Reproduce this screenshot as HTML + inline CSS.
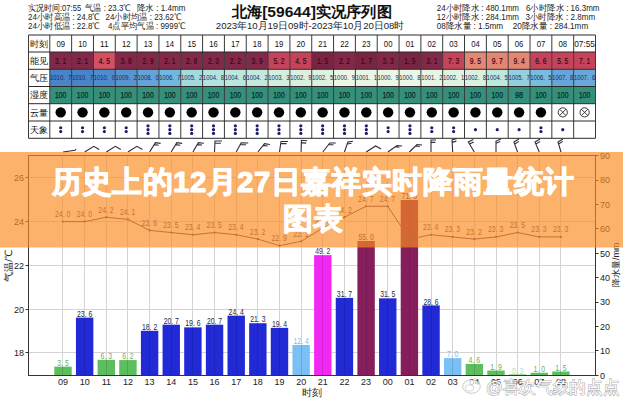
<!DOCTYPE html>
<html><head><meta charset="utf-8">
<style>
html,body{margin:0;padding:0;background:#fff;}
body{width:623px;height:400px;overflow:hidden;position:relative;font-family:"Liberation Sans", sans-serif;}
svg{position:absolute;left:0;top:0;}
svg text{font-family:"Liberation Sans", sans-serif;}
</style></head><body>
<svg width="623" height="400" viewBox="0 0 623 400">
<text x="28.0" y="10.9" font-size="8.60" fill="#222" textLength="53.2" lengthAdjust="spacingAndGlyphs">实况时间:07:55</text>
<text x="85.0" y="10.9" font-size="8.60" fill="#222" textLength="45.6" lengthAdjust="spacingAndGlyphs">气温 : 23.3℃</text>
<text x="137.0" y="10.9" font-size="8.60" fill="#222" textLength="48.4" lengthAdjust="spacingAndGlyphs">降水 : 1.4mm</text>
<text x="28.0" y="20.1" font-size="8.60" fill="#222" textLength="71.8" lengthAdjust="spacingAndGlyphs">24小时高温 : 24.8℃</text>
<text x="105.6" y="20.1" font-size="8.60" fill="#222" textLength="75.8" lengthAdjust="spacingAndGlyphs">24小时均温 : 23.62℃</text>
<text x="28.0" y="29.4" font-size="8.60" fill="#222" textLength="71.8" lengthAdjust="spacingAndGlyphs">24小时低温 : 22.8℃</text>
<text x="108.0" y="29.4" font-size="8.60" fill="#222" textLength="77.4" lengthAdjust="spacingAndGlyphs">4点平均气温 : 9999℃</text>
<text x="436.7" y="10.9" font-size="8.60" fill="#222" textLength="82.3" lengthAdjust="spacingAndGlyphs">24小时降水 : 480.1mm</text>
<text x="526.0" y="10.9" font-size="8.60" fill="#222" textLength="73.5" lengthAdjust="spacingAndGlyphs">6小时降水 : 16.3mm</text>
<text x="436.7" y="20.1" font-size="8.60" fill="#222" textLength="82.3" lengthAdjust="spacingAndGlyphs">12小时降水 : 284.1mm</text>
<text x="525.6" y="20.1" font-size="8.60" fill="#222" textLength="69.5" lengthAdjust="spacingAndGlyphs">3小时降水 : 2.8mm</text>
<text x="436.7" y="29.4" font-size="8.60" fill="#222" textLength="66.3" lengthAdjust="spacingAndGlyphs">08降水量 : 1.5mm</text>
<text x="512.7" y="29.4" font-size="8.60" fill="#222" textLength="75.5" lengthAdjust="spacingAndGlyphs">20降水量 : 284.1mm</text>
<text x="231.8" y="16.5" font-size="15.4" font-weight="bold" fill="#111" textLength="160" lengthAdjust="spacingAndGlyphs">北海[59644]实况序列图</text>
<text x="215.8" y="28.9" font-size="9.8" fill="#222" textLength="188.4" lengthAdjust="spacingAndGlyphs">2023年10月19日09时-2023年10月20日08时</text>
<rect x="49.80" y="52.00" width="21.83" height="17.30" fill="rgb(132,40,74)"/>
<rect x="49.80" y="69.30" width="21.83" height="17.20" fill="rgb(72,132,198)"/>
<rect x="49.80" y="86.50" width="21.83" height="17.20" fill="rgb(52,144,122)"/>
<rect x="71.63" y="52.00" width="21.83" height="17.30" fill="rgb(132,40,74)"/>
<rect x="71.63" y="69.30" width="21.83" height="17.20" fill="rgb(72,132,198)"/>
<rect x="71.63" y="86.50" width="21.83" height="17.20" fill="rgb(52,144,122)"/>
<rect x="93.46" y="52.00" width="21.83" height="17.30" fill="rgb(212,80,96)"/>
<rect x="93.46" y="69.30" width="21.83" height="17.20" fill="rgb(79,140,203)"/>
<rect x="93.46" y="86.50" width="21.83" height="17.20" fill="rgb(52,144,122)"/>
<rect x="115.28" y="52.00" width="21.83" height="17.30" fill="rgb(132,40,74)"/>
<rect x="115.28" y="69.30" width="21.83" height="17.20" fill="rgb(88,149,208)"/>
<rect x="115.28" y="86.50" width="21.83" height="17.20" fill="rgb(52,144,122)"/>
<rect x="137.11" y="52.00" width="21.83" height="17.30" fill="rgb(132,40,74)"/>
<rect x="137.11" y="69.30" width="21.83" height="17.20" fill="rgb(100,162,216)"/>
<rect x="137.11" y="86.50" width="21.83" height="17.20" fill="rgb(52,144,122)"/>
<rect x="158.94" y="52.00" width="21.83" height="17.30" fill="rgb(132,40,74)"/>
<rect x="158.94" y="69.30" width="21.83" height="17.20" fill="rgb(112,184,224)"/>
<rect x="158.94" y="86.50" width="21.83" height="17.20" fill="rgb(52,144,122)"/>
<rect x="180.77" y="52.00" width="21.83" height="17.30" fill="rgb(132,40,74)"/>
<rect x="180.77" y="69.30" width="21.83" height="17.20" fill="rgb(164,218,222)"/>
<rect x="180.77" y="86.50" width="21.83" height="17.20" fill="rgb(52,144,122)"/>
<rect x="202.60" y="52.00" width="21.83" height="17.30" fill="rgb(132,40,74)"/>
<rect x="202.60" y="69.30" width="21.83" height="17.20" fill="rgb(180,226,222)"/>
<rect x="202.60" y="86.50" width="21.83" height="17.20" fill="rgb(52,144,122)"/>
<rect x="224.42" y="52.00" width="21.83" height="17.30" fill="rgb(132,40,74)"/>
<rect x="224.42" y="69.30" width="21.83" height="17.20" fill="rgb(188,230,222)"/>
<rect x="224.42" y="86.50" width="21.83" height="17.20" fill="rgb(52,144,122)"/>
<rect x="246.25" y="52.00" width="21.83" height="17.30" fill="rgb(132,40,74)"/>
<rect x="246.25" y="69.30" width="21.83" height="17.20" fill="rgb(195,232,222)"/>
<rect x="246.25" y="86.50" width="21.83" height="17.20" fill="rgb(52,144,122)"/>
<rect x="268.08" y="52.00" width="21.83" height="17.30" fill="rgb(198,68,90)"/>
<rect x="268.08" y="69.30" width="21.83" height="17.20" fill="rgb(211,238,222)"/>
<rect x="268.08" y="86.50" width="21.83" height="17.20" fill="rgb(52,144,122)"/>
<rect x="289.91" y="52.00" width="21.83" height="17.30" fill="rgb(198,68,90)"/>
<rect x="289.91" y="69.30" width="21.83" height="17.20" fill="rgb(217,240,222)"/>
<rect x="289.91" y="86.50" width="21.83" height="17.20" fill="rgb(52,144,122)"/>
<rect x="311.74" y="52.00" width="21.83" height="17.30" fill="rgb(122,36,68)"/>
<rect x="311.74" y="69.30" width="21.83" height="17.20" fill="rgb(221,241,223)"/>
<rect x="311.74" y="86.50" width="21.83" height="17.20" fill="rgb(52,144,122)"/>
<rect x="333.56" y="52.00" width="21.83" height="17.30" fill="rgb(132,40,74)"/>
<rect x="333.56" y="69.30" width="21.83" height="17.20" fill="rgb(235,246,228)"/>
<rect x="333.56" y="86.50" width="21.83" height="17.20" fill="rgb(52,144,122)"/>
<rect x="355.39" y="52.00" width="21.83" height="17.30" fill="rgb(122,36,68)"/>
<rect x="355.39" y="69.30" width="21.83" height="17.20" fill="rgb(233,245,227)"/>
<rect x="355.39" y="86.50" width="21.83" height="17.20" fill="rgb(52,144,122)"/>
<rect x="377.22" y="52.00" width="21.83" height="17.30" fill="rgb(132,40,74)"/>
<rect x="377.22" y="69.30" width="21.83" height="17.20" fill="rgb(235,246,228)"/>
<rect x="377.22" y="86.50" width="21.83" height="17.20" fill="rgb(52,144,122)"/>
<rect x="399.05" y="52.00" width="21.83" height="17.30" fill="rgb(122,36,68)"/>
<rect x="399.05" y="69.30" width="21.83" height="17.20" fill="rgb(236,246,228)"/>
<rect x="399.05" y="86.50" width="21.83" height="17.20" fill="rgb(52,144,122)"/>
<rect x="420.88" y="52.00" width="21.83" height="17.30" fill="rgb(132,40,74)"/>
<rect x="420.88" y="69.30" width="21.83" height="17.20" fill="rgb(232,245,227)"/>
<rect x="420.88" y="86.50" width="21.83" height="17.20" fill="rgb(52,144,122)"/>
<rect x="442.70" y="52.00" width="21.83" height="17.30" fill="rgb(198,68,90)"/>
<rect x="442.70" y="69.30" width="21.83" height="17.20" fill="rgb(224,242,224)"/>
<rect x="442.70" y="86.50" width="21.83" height="17.20" fill="rgb(52,144,122)"/>
<rect x="464.53" y="52.00" width="21.83" height="17.30" fill="rgb(228,134,114)"/>
<rect x="464.53" y="69.30" width="21.83" height="17.20" fill="rgb(218,241,223)"/>
<rect x="464.53" y="86.50" width="21.83" height="17.20" fill="rgb(52,144,122)"/>
<rect x="486.36" y="52.00" width="21.83" height="17.30" fill="rgb(228,134,114)"/>
<rect x="486.36" y="69.30" width="21.83" height="17.20" fill="rgb(190,231,222)"/>
<rect x="486.36" y="86.50" width="21.83" height="17.20" fill="rgb(52,144,122)"/>
<rect x="508.19" y="52.00" width="21.83" height="17.30" fill="rgb(228,134,114)"/>
<rect x="508.19" y="69.30" width="21.83" height="17.20" fill="rgb(147,207,223)"/>
<rect x="508.19" y="86.50" width="21.83" height="17.20" fill="rgb(52,144,122)"/>
<rect x="530.02" y="52.00" width="21.83" height="17.30" fill="rgb(198,68,90)"/>
<rect x="530.02" y="69.30" width="21.83" height="17.20" fill="rgb(119,189,224)"/>
<rect x="530.02" y="86.50" width="21.83" height="17.20" fill="rgb(52,144,122)"/>
<rect x="551.84" y="52.00" width="21.83" height="17.30" fill="rgb(198,68,90)"/>
<rect x="551.84" y="69.30" width="21.83" height="17.20" fill="rgb(102,165,217)"/>
<rect x="551.84" y="86.50" width="21.83" height="17.20" fill="rgb(52,144,122)"/>
<rect x="573.67" y="52.00" width="21.83" height="17.30" fill="rgb(198,68,90)"/>
<rect x="573.67" y="69.30" width="21.83" height="17.20" fill="rgb(104,169,218)"/>
<rect x="573.67" y="86.50" width="21.83" height="17.20" fill="rgb(52,144,122)"/>
<line x1="49.80" y1="35.00" x2="49.80" y2="138.30" stroke="#3a3a3a" stroke-width="1"/>
<line x1="71.63" y1="35.00" x2="71.63" y2="138.30" stroke="#3a3a3a" stroke-width="1"/>
<line x1="93.46" y1="35.00" x2="93.46" y2="138.30" stroke="#3a3a3a" stroke-width="1"/>
<line x1="115.28" y1="35.00" x2="115.28" y2="138.30" stroke="#3a3a3a" stroke-width="1"/>
<line x1="137.11" y1="35.00" x2="137.11" y2="138.30" stroke="#3a3a3a" stroke-width="1"/>
<line x1="158.94" y1="35.00" x2="158.94" y2="138.30" stroke="#3a3a3a" stroke-width="1"/>
<line x1="180.77" y1="35.00" x2="180.77" y2="138.30" stroke="#3a3a3a" stroke-width="1"/>
<line x1="202.60" y1="35.00" x2="202.60" y2="138.30" stroke="#3a3a3a" stroke-width="1"/>
<line x1="224.42" y1="35.00" x2="224.42" y2="138.30" stroke="#3a3a3a" stroke-width="1"/>
<line x1="246.25" y1="35.00" x2="246.25" y2="138.30" stroke="#3a3a3a" stroke-width="1"/>
<line x1="268.08" y1="35.00" x2="268.08" y2="138.30" stroke="#3a3a3a" stroke-width="1"/>
<line x1="289.91" y1="35.00" x2="289.91" y2="138.30" stroke="#3a3a3a" stroke-width="1"/>
<line x1="311.74" y1="35.00" x2="311.74" y2="138.30" stroke="#3a3a3a" stroke-width="1"/>
<line x1="333.56" y1="35.00" x2="333.56" y2="138.30" stroke="#3a3a3a" stroke-width="1"/>
<line x1="355.39" y1="35.00" x2="355.39" y2="138.30" stroke="#3a3a3a" stroke-width="1"/>
<line x1="377.22" y1="35.00" x2="377.22" y2="138.30" stroke="#3a3a3a" stroke-width="1"/>
<line x1="399.05" y1="35.00" x2="399.05" y2="138.30" stroke="#3a3a3a" stroke-width="1"/>
<line x1="420.88" y1="35.00" x2="420.88" y2="138.30" stroke="#3a3a3a" stroke-width="1"/>
<line x1="442.70" y1="35.00" x2="442.70" y2="138.30" stroke="#3a3a3a" stroke-width="1"/>
<line x1="464.53" y1="35.00" x2="464.53" y2="138.30" stroke="#3a3a3a" stroke-width="1"/>
<line x1="486.36" y1="35.00" x2="486.36" y2="138.30" stroke="#3a3a3a" stroke-width="1"/>
<line x1="508.19" y1="35.00" x2="508.19" y2="138.30" stroke="#3a3a3a" stroke-width="1"/>
<line x1="530.02" y1="35.00" x2="530.02" y2="138.30" stroke="#3a3a3a" stroke-width="1"/>
<line x1="551.84" y1="35.00" x2="551.84" y2="138.30" stroke="#3a3a3a" stroke-width="1"/>
<line x1="573.67" y1="35.00" x2="573.67" y2="138.30" stroke="#3a3a3a" stroke-width="1"/>
<line x1="595.50" y1="35.00" x2="595.50" y2="138.30" stroke="#3a3a3a" stroke-width="1"/>
<line x1="28.50" y1="35.00" x2="28.50" y2="138.30" stroke="#3a3a3a" stroke-width="1"/>
<line x1="28.50" y1="35.00" x2="595.50" y2="35.00" stroke="#2a2a2a" stroke-width="1"/>
<line x1="28.50" y1="52.00" x2="595.50" y2="52.00" stroke="#2a2a2a" stroke-width="1"/>
<line x1="28.50" y1="69.30" x2="595.50" y2="69.30" stroke="#2a2a2a" stroke-width="1"/>
<line x1="28.50" y1="86.50" x2="595.50" y2="86.50" stroke="#2a2a2a" stroke-width="1"/>
<line x1="28.50" y1="103.70" x2="595.50" y2="103.70" stroke="#2a2a2a" stroke-width="1"/>
<line x1="28.50" y1="121.00" x2="595.50" y2="121.00" stroke="#2a2a2a" stroke-width="1"/>
<line x1="28.50" y1="138.30" x2="595.50" y2="138.30" stroke="#2a2a2a" stroke-width="1"/>
<text x="39.1" y="46.80" font-size="9.2" text-anchor="middle" fill="#111">时刻</text>
<text x="39.1" y="63.95" font-size="9.2" text-anchor="middle" fill="#111">能见</text>
<text x="39.1" y="81.20" font-size="9.2" text-anchor="middle" fill="#111">气压</text>
<text x="39.1" y="98.40" font-size="9.2" text-anchor="middle" fill="#111">湿度</text>
<text x="39.1" y="115.65" font-size="9.2" text-anchor="middle" fill="#111">云量</text>
<text x="39.1" y="132.95" font-size="9.2" text-anchor="middle" fill="#111">天象</text>
<text x="60.71" y="46.80" font-size="9" text-anchor="middle" fill="#111" textLength="8.6" lengthAdjust="spacingAndGlyphs">09</text>
<text x="60.71" y="63.95" font-size="9" text-anchor="middle" fill="#3a0818" stroke="#3a0818" stroke-width="0.2" textLength="11.2" lengthAdjust="spacingAndGlyphs">3. 1</text>
<text x="60.71" y="80.30" font-size="6.6" text-anchor="middle" fill="#1c2a5a" textLength="21.3" lengthAdjust="spacingAndGlyphs">1010.&#160;&#160;7</text>
<text x="60.71" y="98.40" font-size="9" text-anchor="middle" fill="#0c2a26" stroke="#0c2a26" stroke-width="0.25" textLength="11.4" lengthAdjust="spacingAndGlyphs">100</text>
<circle cx="60.71" cy="112.35" r="5.2" fill="#000"/>
<circle cx="60.71" cy="127.75" r="1.6" fill="#1a1f6a"/>
<circle cx="60.71" cy="131.55" r="1.6" fill="#1a1f6a"/>
<text x="82.54" y="46.80" font-size="9" text-anchor="middle" fill="#111" textLength="8.6" lengthAdjust="spacingAndGlyphs">10</text>
<text x="82.54" y="63.95" font-size="9" text-anchor="middle" fill="#3a0818" stroke="#3a0818" stroke-width="0.2" textLength="11.2" lengthAdjust="spacingAndGlyphs">2. 1</text>
<text x="82.54" y="80.30" font-size="6.6" text-anchor="middle" fill="#1c2a5a" textLength="21.3" lengthAdjust="spacingAndGlyphs">1010.&#160;&#160;7</text>
<text x="82.54" y="98.40" font-size="9" text-anchor="middle" fill="#0c2a26" stroke="#0c2a26" stroke-width="0.25" textLength="11.4" lengthAdjust="spacingAndGlyphs">100</text>
<circle cx="82.54" cy="112.35" r="5.2" fill="#000"/>
<circle cx="82.54" cy="127.75" r="1.6" fill="#1a1f6a"/>
<circle cx="82.54" cy="131.55" r="1.6" fill="#1a1f6a"/>
<text x="104.37" y="46.80" font-size="9" text-anchor="middle" fill="#111" textLength="8.6" lengthAdjust="spacingAndGlyphs">11</text>
<text x="104.37" y="63.95" font-size="9" text-anchor="middle" fill="#3a0818" stroke="#3a0818" stroke-width="0.2" textLength="11.2" lengthAdjust="spacingAndGlyphs">4. 5</text>
<text x="104.37" y="80.30" font-size="6.6" text-anchor="middle" fill="#1c2a5a" textLength="21.3" lengthAdjust="spacingAndGlyphs">1010.&#160;&#160;0</text>
<text x="104.37" y="98.40" font-size="9" text-anchor="middle" fill="#0c2a26" stroke="#0c2a26" stroke-width="0.25" textLength="11.4" lengthAdjust="spacingAndGlyphs">100</text>
<circle cx="104.37" cy="112.35" r="5.2" fill="#000"/>
<circle cx="104.37" cy="127.75" r="1.6" fill="#1a1f6a"/>
<circle cx="104.37" cy="131.55" r="1.6" fill="#1a1f6a"/>
<text x="126.20" y="46.80" font-size="9" text-anchor="middle" fill="#111" textLength="8.6" lengthAdjust="spacingAndGlyphs">12</text>
<text x="126.20" y="63.95" font-size="9" text-anchor="middle" fill="#3a0818" stroke="#3a0818" stroke-width="0.2" textLength="11.2" lengthAdjust="spacingAndGlyphs">3. 8</text>
<text x="126.20" y="80.30" font-size="6.6" text-anchor="middle" fill="#1c2a5a" textLength="21.3" lengthAdjust="spacingAndGlyphs">1009.&#160;&#160;2</text>
<text x="126.20" y="98.40" font-size="9" text-anchor="middle" fill="#0c2a26" stroke="#0c2a26" stroke-width="0.25" textLength="11.4" lengthAdjust="spacingAndGlyphs">100</text>
<circle cx="126.20" cy="112.35" r="5.2" fill="#000"/>
<circle cx="126.20" cy="127.75" r="1.6" fill="#1a1f6a"/>
<circle cx="126.20" cy="131.55" r="1.6" fill="#1a1f6a"/>
<text x="148.03" y="46.80" font-size="9" text-anchor="middle" fill="#111" textLength="8.6" lengthAdjust="spacingAndGlyphs">13</text>
<text x="148.03" y="63.95" font-size="9" text-anchor="middle" fill="#3a0818" stroke="#3a0818" stroke-width="0.2" textLength="11.2" lengthAdjust="spacingAndGlyphs">2. 9</text>
<text x="148.03" y="80.30" font-size="6.6" text-anchor="middle" fill="#1c2a5a" textLength="21.3" lengthAdjust="spacingAndGlyphs">1008.&#160;&#160;0</text>
<text x="148.03" y="98.40" font-size="9" text-anchor="middle" fill="#0c2a26" stroke="#0c2a26" stroke-width="0.25" textLength="11.4" lengthAdjust="spacingAndGlyphs">100</text>
<circle cx="148.03" cy="112.35" r="5.2" fill="#000"/>
<circle cx="148.03" cy="125.85" r="1.6" fill="#1a1f6a"/>
<circle cx="148.03" cy="129.65" r="1.6" fill="#1a1f6a"/>
<circle cx="148.03" cy="133.45" r="1.6" fill="#1a1f6a"/>
<text x="169.85" y="46.80" font-size="9" text-anchor="middle" fill="#111" textLength="8.6" lengthAdjust="spacingAndGlyphs">14</text>
<text x="169.85" y="63.95" font-size="9" text-anchor="middle" fill="#3a0818" stroke="#3a0818" stroke-width="0.2" textLength="11.2" lengthAdjust="spacingAndGlyphs">2. 1</text>
<text x="169.85" y="80.30" font-size="6.6" text-anchor="middle" fill="#1c2a5a" textLength="21.3" lengthAdjust="spacingAndGlyphs">1006.&#160;&#160;7</text>
<text x="169.85" y="98.40" font-size="9" text-anchor="middle" fill="#0c2a26" stroke="#0c2a26" stroke-width="0.25" textLength="11.4" lengthAdjust="spacingAndGlyphs">100</text>
<circle cx="169.85" cy="112.35" r="5.2" fill="#000"/>
<circle cx="169.85" cy="125.85" r="1.6" fill="#1a1f6a"/>
<circle cx="169.85" cy="129.65" r="1.6" fill="#1a1f6a"/>
<circle cx="169.85" cy="133.45" r="1.6" fill="#1a1f6a"/>
<text x="191.68" y="46.80" font-size="9" text-anchor="middle" fill="#111" textLength="8.6" lengthAdjust="spacingAndGlyphs">15</text>
<text x="191.68" y="63.95" font-size="9" text-anchor="middle" fill="#3a0818" stroke="#3a0818" stroke-width="0.2" textLength="11.2" lengthAdjust="spacingAndGlyphs">2. 8</text>
<text x="191.68" y="80.30" font-size="6.6" text-anchor="middle" fill="#1c2a5a" textLength="21.3" lengthAdjust="spacingAndGlyphs">1005.&#160;&#160;2</text>
<text x="191.68" y="98.40" font-size="9" text-anchor="middle" fill="#0c2a26" stroke="#0c2a26" stroke-width="0.25" textLength="11.4" lengthAdjust="spacingAndGlyphs">100</text>
<circle cx="191.68" cy="112.35" r="5.2" fill="#000"/>
<circle cx="191.68" cy="125.85" r="1.6" fill="#1a1f6a"/>
<circle cx="191.68" cy="129.65" r="1.6" fill="#1a1f6a"/>
<circle cx="191.68" cy="133.45" r="1.6" fill="#1a1f6a"/>
<text x="213.51" y="46.80" font-size="9" text-anchor="middle" fill="#111" textLength="8.6" lengthAdjust="spacingAndGlyphs">16</text>
<text x="213.51" y="63.95" font-size="9" text-anchor="middle" fill="#3a0818" stroke="#3a0818" stroke-width="0.2" textLength="11.2" lengthAdjust="spacingAndGlyphs">2. 3</text>
<text x="213.51" y="80.30" font-size="6.6" text-anchor="middle" fill="#1c2a5a" textLength="21.3" lengthAdjust="spacingAndGlyphs">1004.&#160;&#160;8</text>
<text x="213.51" y="98.40" font-size="9" text-anchor="middle" fill="#0c2a26" stroke="#0c2a26" stroke-width="0.25" textLength="11.4" lengthAdjust="spacingAndGlyphs">100</text>
<circle cx="213.51" cy="112.35" r="5.2" fill="#000"/>
<circle cx="213.51" cy="125.85" r="1.6" fill="#1a1f6a"/>
<circle cx="213.51" cy="129.65" r="1.6" fill="#1a1f6a"/>
<circle cx="213.51" cy="133.45" r="1.6" fill="#1a1f6a"/>
<text x="235.34" y="46.80" font-size="9" text-anchor="middle" fill="#111" textLength="8.6" lengthAdjust="spacingAndGlyphs">17</text>
<text x="235.34" y="63.95" font-size="9" text-anchor="middle" fill="#3a0818" stroke="#3a0818" stroke-width="0.2" textLength="11.2" lengthAdjust="spacingAndGlyphs">2. 2</text>
<text x="235.34" y="80.30" font-size="6.6" text-anchor="middle" fill="#1c2a5a" textLength="21.3" lengthAdjust="spacingAndGlyphs">1004.&#160;&#160;6</text>
<text x="235.34" y="98.40" font-size="9" text-anchor="middle" fill="#0c2a26" stroke="#0c2a26" stroke-width="0.25" textLength="11.4" lengthAdjust="spacingAndGlyphs">100</text>
<circle cx="235.34" cy="112.35" r="5.2" fill="#000"/>
<circle cx="235.34" cy="125.85" r="1.6" fill="#1a1f6a"/>
<circle cx="235.34" cy="129.65" r="1.6" fill="#1a1f6a"/>
<circle cx="235.34" cy="133.45" r="1.6" fill="#1a1f6a"/>
<text x="257.17" y="46.80" font-size="9" text-anchor="middle" fill="#111" textLength="8.6" lengthAdjust="spacingAndGlyphs">18</text>
<text x="257.17" y="63.95" font-size="9" text-anchor="middle" fill="#3a0818" stroke="#3a0818" stroke-width="0.2" textLength="11.2" lengthAdjust="spacingAndGlyphs">3. 9</text>
<text x="257.17" y="80.30" font-size="6.6" text-anchor="middle" fill="#1c2a5a" textLength="21.3" lengthAdjust="spacingAndGlyphs">1004.&#160;&#160;2</text>
<text x="257.17" y="98.40" font-size="9" text-anchor="middle" fill="#0c2a26" stroke="#0c2a26" stroke-width="0.25" textLength="11.4" lengthAdjust="spacingAndGlyphs">100</text>
<circle cx="257.17" cy="112.35" r="5.2" fill="#000"/>
<circle cx="257.17" cy="125.85" r="1.6" fill="#1a1f6a"/>
<circle cx="257.17" cy="129.65" r="1.6" fill="#1a1f6a"/>
<circle cx="257.17" cy="133.45" r="1.6" fill="#1a1f6a"/>
<text x="278.99" y="46.80" font-size="9" text-anchor="middle" fill="#111" textLength="8.6" lengthAdjust="spacingAndGlyphs">19</text>
<text x="278.99" y="63.95" font-size="9" text-anchor="middle" fill="#3a0818" stroke="#3a0818" stroke-width="0.2" textLength="11.2" lengthAdjust="spacingAndGlyphs">5. 2</text>
<text x="278.99" y="80.30" font-size="6.6" text-anchor="middle" fill="#1c2a5a" textLength="21.3" lengthAdjust="spacingAndGlyphs">1003.&#160;&#160;3</text>
<text x="278.99" y="98.40" font-size="9" text-anchor="middle" fill="#0c2a26" stroke="#0c2a26" stroke-width="0.25" textLength="11.4" lengthAdjust="spacingAndGlyphs">100</text>
<circle cx="278.99" cy="112.35" r="5.2" fill="#000"/>
<circle cx="278.99" cy="125.85" r="1.6" fill="#1a1f6a"/>
<circle cx="278.99" cy="129.65" r="1.6" fill="#1a1f6a"/>
<circle cx="278.99" cy="133.45" r="1.6" fill="#1a1f6a"/>
<text x="300.82" y="46.80" font-size="9" text-anchor="middle" fill="#111" textLength="8.6" lengthAdjust="spacingAndGlyphs">20</text>
<text x="300.82" y="63.95" font-size="9" text-anchor="middle" fill="#3a0818" stroke="#3a0818" stroke-width="0.2" textLength="11.2" lengthAdjust="spacingAndGlyphs">4. 5</text>
<text x="300.82" y="80.30" font-size="6.6" text-anchor="middle" fill="#1c2a5a" textLength="21.3" lengthAdjust="spacingAndGlyphs">1002.&#160;&#160;9</text>
<text x="300.82" y="98.40" font-size="9" text-anchor="middle" fill="#0c2a26" stroke="#0c2a26" stroke-width="0.25" textLength="11.4" lengthAdjust="spacingAndGlyphs">100</text>
<circle cx="300.82" cy="112.35" r="5.2" fill="#000"/>
<circle cx="300.82" cy="125.85" r="1.6" fill="#1a1f6a"/>
<circle cx="300.82" cy="129.65" r="1.6" fill="#1a1f6a"/>
<circle cx="300.82" cy="133.45" r="1.6" fill="#1a1f6a"/>
<text x="322.65" y="46.80" font-size="9" text-anchor="middle" fill="#111" textLength="8.6" lengthAdjust="spacingAndGlyphs">21</text>
<text x="322.65" y="63.95" font-size="9" text-anchor="middle" fill="#3a0818" stroke="#3a0818" stroke-width="0.2" textLength="11.2" lengthAdjust="spacingAndGlyphs">1. 5</text>
<text x="322.65" y="80.30" font-size="6.6" text-anchor="middle" fill="#1c2a5a" textLength="21.3" lengthAdjust="spacingAndGlyphs">1002.&#160;&#160;5</text>
<text x="322.65" y="98.40" font-size="9" text-anchor="middle" fill="#0c2a26" stroke="#0c2a26" stroke-width="0.25" textLength="11.4" lengthAdjust="spacingAndGlyphs">100</text>
<circle cx="322.65" cy="112.35" r="5.2" fill="#000"/>
<circle cx="322.65" cy="125.85" r="1.6" fill="#1a1f6a"/>
<circle cx="322.65" cy="129.65" r="1.6" fill="#1a1f6a"/>
<circle cx="322.65" cy="133.45" r="1.6" fill="#1a1f6a"/>
<text x="344.48" y="46.80" font-size="9" text-anchor="middle" fill="#111" textLength="8.6" lengthAdjust="spacingAndGlyphs">22</text>
<text x="344.48" y="63.95" font-size="9" text-anchor="middle" fill="#3a0818" stroke="#3a0818" stroke-width="0.2" textLength="11.2" lengthAdjust="spacingAndGlyphs">2. 2</text>
<text x="344.48" y="80.30" font-size="6.6" text-anchor="middle" fill="#1c2a5a" textLength="21.3" lengthAdjust="spacingAndGlyphs">1000.&#160;&#160;9</text>
<text x="344.48" y="98.40" font-size="9" text-anchor="middle" fill="#0c2a26" stroke="#0c2a26" stroke-width="0.25" textLength="11.4" lengthAdjust="spacingAndGlyphs">100</text>
<circle cx="344.48" cy="112.35" r="5.2" fill="#000"/>
<circle cx="344.48" cy="125.85" r="1.6" fill="#1a1f6a"/>
<circle cx="344.48" cy="129.65" r="1.6" fill="#1a1f6a"/>
<circle cx="344.48" cy="133.45" r="1.6" fill="#1a1f6a"/>
<text x="366.31" y="46.80" font-size="9" text-anchor="middle" fill="#111" textLength="8.6" lengthAdjust="spacingAndGlyphs">23</text>
<text x="366.31" y="63.95" font-size="9" text-anchor="middle" fill="#3a0818" stroke="#3a0818" stroke-width="0.2" textLength="11.2" lengthAdjust="spacingAndGlyphs">1. 7</text>
<text x="366.31" y="80.30" font-size="6.6" text-anchor="middle" fill="#1c2a5a" textLength="21.3" lengthAdjust="spacingAndGlyphs">1001.&#160;&#160;1</text>
<text x="366.31" y="98.40" font-size="9" text-anchor="middle" fill="#0c2a26" stroke="#0c2a26" stroke-width="0.25" textLength="11.4" lengthAdjust="spacingAndGlyphs">100</text>
<circle cx="366.31" cy="112.35" r="5.2" fill="#000"/>
<circle cx="366.31" cy="125.85" r="1.6" fill="#1a1f6a"/>
<circle cx="366.31" cy="129.65" r="1.6" fill="#1a1f6a"/>
<circle cx="366.31" cy="133.45" r="1.6" fill="#1a1f6a"/>
<text x="388.13" y="46.80" font-size="9" text-anchor="middle" fill="#111" textLength="8.6" lengthAdjust="spacingAndGlyphs">00</text>
<text x="388.13" y="63.95" font-size="9" text-anchor="middle" fill="#3a0818" stroke="#3a0818" stroke-width="0.2" textLength="11.2" lengthAdjust="spacingAndGlyphs">3. 3</text>
<text x="388.13" y="80.30" font-size="6.6" text-anchor="middle" fill="#1c2a5a" textLength="21.3" lengthAdjust="spacingAndGlyphs">1000.&#160;&#160;9</text>
<text x="388.13" y="98.40" font-size="9" text-anchor="middle" fill="#0c2a26" stroke="#0c2a26" stroke-width="0.25" textLength="11.4" lengthAdjust="spacingAndGlyphs">100</text>
<circle cx="388.13" cy="112.35" r="5.2" fill="#000"/>
<circle cx="388.13" cy="127.75" r="1.6" fill="#1a1f6a"/>
<circle cx="388.13" cy="131.55" r="1.6" fill="#1a1f6a"/>
<text x="409.96" y="46.80" font-size="9" text-anchor="middle" fill="#111" textLength="8.6" lengthAdjust="spacingAndGlyphs">01</text>
<text x="409.96" y="63.95" font-size="9" text-anchor="middle" fill="#3a0818" stroke="#3a0818" stroke-width="0.2" textLength="11.2" lengthAdjust="spacingAndGlyphs">1. 5</text>
<text x="409.96" y="80.30" font-size="6.6" text-anchor="middle" fill="#1c2a5a" textLength="21.3" lengthAdjust="spacingAndGlyphs">1000.&#160;&#160;8</text>
<text x="409.96" y="98.40" font-size="9" text-anchor="middle" fill="#0c2a26" stroke="#0c2a26" stroke-width="0.25" textLength="11.4" lengthAdjust="spacingAndGlyphs">100</text>
<circle cx="409.96" cy="112.35" r="5.2" fill="#000"/>
<circle cx="409.96" cy="125.85" r="1.6" fill="#1a1f6a"/>
<circle cx="409.96" cy="129.65" r="1.6" fill="#1a1f6a"/>
<circle cx="409.96" cy="133.45" r="1.6" fill="#1a1f6a"/>
<text x="431.79" y="46.80" font-size="9" text-anchor="middle" fill="#111" textLength="8.6" lengthAdjust="spacingAndGlyphs">02</text>
<text x="431.79" y="63.95" font-size="9" text-anchor="middle" fill="#3a0818" stroke="#3a0818" stroke-width="0.2" textLength="11.2" lengthAdjust="spacingAndGlyphs">3. 1</text>
<text x="431.79" y="80.30" font-size="6.6" text-anchor="middle" fill="#1c2a5a" textLength="21.3" lengthAdjust="spacingAndGlyphs">1001.&#160;&#160;2</text>
<text x="431.79" y="98.40" font-size="9" text-anchor="middle" fill="#0c2a26" stroke="#0c2a26" stroke-width="0.25" textLength="11.4" lengthAdjust="spacingAndGlyphs">100</text>
<circle cx="431.79" cy="112.35" r="5.2" fill="#000"/>
<circle cx="431.79" cy="127.75" r="1.6" fill="#1a1f6a"/>
<circle cx="431.79" cy="131.55" r="1.6" fill="#1a1f6a"/>
<text x="453.62" y="46.80" font-size="9" text-anchor="middle" fill="#111" textLength="8.6" lengthAdjust="spacingAndGlyphs">03</text>
<text x="453.62" y="63.95" font-size="9" text-anchor="middle" fill="#3a0818" stroke="#3a0818" stroke-width="0.2" textLength="11.2" lengthAdjust="spacingAndGlyphs">7. 3</text>
<text x="453.62" y="80.30" font-size="6.6" text-anchor="middle" fill="#1c2a5a" textLength="21.3" lengthAdjust="spacingAndGlyphs">1002.&#160;&#160;1</text>
<text x="453.62" y="98.40" font-size="9" text-anchor="middle" fill="#0c2a26" stroke="#0c2a26" stroke-width="0.25" textLength="11.4" lengthAdjust="spacingAndGlyphs">100</text>
<circle cx="453.62" cy="112.35" r="5.2" fill="#000"/>
<circle cx="453.62" cy="127.75" r="1.6" fill="#1a1f6a"/>
<circle cx="453.62" cy="131.55" r="1.6" fill="#1a1f6a"/>
<text x="475.45" y="46.80" font-size="9" text-anchor="middle" fill="#111" textLength="8.6" lengthAdjust="spacingAndGlyphs">04</text>
<text x="475.45" y="63.95" font-size="9" text-anchor="middle" fill="#3a0818" stroke="#3a0818" stroke-width="0.2" textLength="11.2" lengthAdjust="spacingAndGlyphs">9. 5</text>
<text x="475.45" y="80.30" font-size="6.6" text-anchor="middle" fill="#1c2a5a" textLength="21.3" lengthAdjust="spacingAndGlyphs">1002.&#160;&#160;8</text>
<text x="475.45" y="98.40" font-size="9" text-anchor="middle" fill="#0c2a26" stroke="#0c2a26" stroke-width="0.25" textLength="11.4" lengthAdjust="spacingAndGlyphs">100</text>
<circle cx="475.45" cy="112.35" r="5.2" fill="#000"/>
<circle cx="475.45" cy="129.65" r="1.6" fill="#1a1f6a"/>
<text x="497.27" y="46.80" font-size="9" text-anchor="middle" fill="#111" textLength="8.6" lengthAdjust="spacingAndGlyphs">05</text>
<text x="497.27" y="63.95" font-size="9" text-anchor="middle" fill="#3a0818" stroke="#3a0818" stroke-width="0.2" textLength="11.2" lengthAdjust="spacingAndGlyphs">9. 7</text>
<text x="497.27" y="80.30" font-size="6.6" text-anchor="middle" fill="#1c2a5a" textLength="21.3" lengthAdjust="spacingAndGlyphs">1004.&#160;&#160;5</text>
<text x="497.27" y="98.40" font-size="9" text-anchor="middle" fill="#0c2a26" stroke="#0c2a26" stroke-width="0.25" textLength="11.4" lengthAdjust="spacingAndGlyphs">100</text>
<circle cx="497.27" cy="112.35" r="5.2" fill="#000"/>
<circle cx="497.27" cy="129.65" r="1.6" fill="#1a1f6a"/>
<text x="519.10" y="46.80" font-size="9" text-anchor="middle" fill="#111" textLength="8.6" lengthAdjust="spacingAndGlyphs">06</text>
<text x="519.10" y="63.95" font-size="9" text-anchor="middle" fill="#3a0818" stroke="#3a0818" stroke-width="0.2" textLength="11.2" lengthAdjust="spacingAndGlyphs">9. 4</text>
<text x="519.10" y="80.30" font-size="6.6" text-anchor="middle" fill="#1c2a5a" textLength="21.3" lengthAdjust="spacingAndGlyphs">1005.&#160;&#160;7</text>
<text x="519.10" y="98.40" font-size="9" text-anchor="middle" fill="#0c2a26" stroke="#0c2a26" stroke-width="0.25" textLength="8.0" lengthAdjust="spacingAndGlyphs">98</text>
<circle cx="519.10" cy="112.35" r="5.2" fill="#000"/>
<circle cx="519.10" cy="129.65" r="1.6" fill="#1a1f6a"/>
<text x="540.93" y="46.80" font-size="9" text-anchor="middle" fill="#111" textLength="8.6" lengthAdjust="spacingAndGlyphs">07</text>
<text x="540.93" y="63.95" font-size="9" text-anchor="middle" fill="#3a0818" stroke="#3a0818" stroke-width="0.2" textLength="11.2" lengthAdjust="spacingAndGlyphs">6. 6</text>
<text x="540.93" y="80.30" font-size="6.6" text-anchor="middle" fill="#1c2a5a" textLength="21.3" lengthAdjust="spacingAndGlyphs">1006.&#160;&#160;5</text>
<text x="540.93" y="98.40" font-size="9" text-anchor="middle" fill="#0c2a26" stroke="#0c2a26" stroke-width="0.25" textLength="11.4" lengthAdjust="spacingAndGlyphs">100</text>
<circle cx="540.93" cy="112.35" r="5.2" fill="#000"/>
<circle cx="540.93" cy="127.75" r="1.6" fill="#1a1f6a"/>
<circle cx="540.93" cy="131.55" r="1.6" fill="#1a1f6a"/>
<text x="562.76" y="46.80" font-size="9" text-anchor="middle" fill="#111" textLength="8.6" lengthAdjust="spacingAndGlyphs">08</text>
<text x="562.76" y="63.95" font-size="9" text-anchor="middle" fill="#3a0818" stroke="#3a0818" stroke-width="0.2" textLength="11.2" lengthAdjust="spacingAndGlyphs">5. 5</text>
<text x="562.76" y="80.30" font-size="6.6" text-anchor="middle" fill="#1c2a5a" textLength="21.3" lengthAdjust="spacingAndGlyphs">1007.&#160;&#160;8</text>
<text x="562.76" y="98.40" font-size="9" text-anchor="middle" fill="#0c2a26" stroke="#0c2a26" stroke-width="0.25" textLength="11.4" lengthAdjust="spacingAndGlyphs">100</text>
<circle cx="562.76" cy="112.35" r="4.6" fill="none" stroke="#222" stroke-width="0.9"/>
<path d="M559.56 109.15L565.96 115.55M565.96 109.15L559.56 115.55" stroke="#222" stroke-width="0.9"/>
<circle cx="562.76" cy="129.65" r="1.6" fill="#1a1f6a"/>
<text x="584.59" y="46.80" font-size="9" text-anchor="middle" fill="#111" textLength="20.8" lengthAdjust="spacingAndGlyphs">07:55</text>
<text x="584.59" y="63.95" font-size="9" text-anchor="middle" fill="#3a0818" stroke="#3a0818" stroke-width="0.2" textLength="11.2" lengthAdjust="spacingAndGlyphs">7. 1</text>
<text x="584.59" y="80.30" font-size="6.6" text-anchor="middle" fill="#1c2a5a" textLength="21.3" lengthAdjust="spacingAndGlyphs">1007.&#160;&#160;6</text>
<text x="584.59" y="98.40" font-size="9" text-anchor="middle" fill="#0c2a26" stroke="#0c2a26" stroke-width="0.25" textLength="11.4" lengthAdjust="spacingAndGlyphs">100</text>
<circle cx="584.59" cy="112.35" r="4.6" fill="none" stroke="#222" stroke-width="0.9"/>
<path d="M581.39 109.15L587.79 115.55M587.79 109.15L581.39 115.55" stroke="#222" stroke-width="0.9"/>
<line x1="28.50" y1="352.50" x2="595.50" y2="352.50" stroke="#d4d4d4" stroke-width="1"/>
<line x1="28.50" y1="309.50" x2="595.50" y2="309.50" stroke="#d4d4d4" stroke-width="1"/>
<line x1="28.50" y1="265.50" x2="595.50" y2="265.50" stroke="#d4d4d4" stroke-width="1"/>
<line x1="28.50" y1="221.50" x2="595.50" y2="221.50" stroke="#d4d4d4" stroke-width="1"/>
<line x1="28.50" y1="177.50" x2="595.50" y2="177.50" stroke="#d4d4d4" stroke-width="1"/>
<line x1="62.50" y1="155.50" x2="62.50" y2="375.50" stroke="#d4d4d4" stroke-width="1"/>
<line x1="84.50" y1="155.50" x2="84.50" y2="375.50" stroke="#d4d4d4" stroke-width="1"/>
<line x1="106.50" y1="155.50" x2="106.50" y2="375.50" stroke="#d4d4d4" stroke-width="1"/>
<line x1="127.50" y1="155.50" x2="127.50" y2="375.50" stroke="#d4d4d4" stroke-width="1"/>
<line x1="149.50" y1="155.50" x2="149.50" y2="375.50" stroke="#d4d4d4" stroke-width="1"/>
<line x1="171.50" y1="155.50" x2="171.50" y2="375.50" stroke="#d4d4d4" stroke-width="1"/>
<line x1="192.50" y1="155.50" x2="192.50" y2="375.50" stroke="#d4d4d4" stroke-width="1"/>
<line x1="214.50" y1="155.50" x2="214.50" y2="375.50" stroke="#d4d4d4" stroke-width="1"/>
<line x1="236.50" y1="155.50" x2="236.50" y2="375.50" stroke="#d4d4d4" stroke-width="1"/>
<line x1="257.50" y1="155.50" x2="257.50" y2="375.50" stroke="#d4d4d4" stroke-width="1"/>
<line x1="279.50" y1="155.50" x2="279.50" y2="375.50" stroke="#d4d4d4" stroke-width="1"/>
<line x1="301.50" y1="155.50" x2="301.50" y2="375.50" stroke="#d4d4d4" stroke-width="1"/>
<line x1="322.50" y1="155.50" x2="322.50" y2="375.50" stroke="#d4d4d4" stroke-width="1"/>
<line x1="344.50" y1="155.50" x2="344.50" y2="375.50" stroke="#d4d4d4" stroke-width="1"/>
<line x1="366.50" y1="155.50" x2="366.50" y2="375.50" stroke="#d4d4d4" stroke-width="1"/>
<line x1="387.50" y1="155.50" x2="387.50" y2="375.50" stroke="#d4d4d4" stroke-width="1"/>
<line x1="409.50" y1="155.50" x2="409.50" y2="375.50" stroke="#d4d4d4" stroke-width="1"/>
<line x1="431.50" y1="155.50" x2="431.50" y2="375.50" stroke="#d4d4d4" stroke-width="1"/>
<line x1="452.50" y1="155.50" x2="452.50" y2="375.50" stroke="#d4d4d4" stroke-width="1"/>
<line x1="474.50" y1="155.50" x2="474.50" y2="375.50" stroke="#d4d4d4" stroke-width="1"/>
<line x1="496.50" y1="155.50" x2="496.50" y2="375.50" stroke="#d4d4d4" stroke-width="1"/>
<line x1="517.50" y1="155.50" x2="517.50" y2="375.50" stroke="#d4d4d4" stroke-width="1"/>
<line x1="539.50" y1="155.50" x2="539.50" y2="375.50" stroke="#d4d4d4" stroke-width="1"/>
<line x1="560.50" y1="155.50" x2="560.50" y2="375.50" stroke="#d4d4d4" stroke-width="1"/>
<rect x="54.30" y="366.66" width="17.4" height="8.54" fill="rgb(92,190,92)"/>
<rect x="62.0" y="366.66" width="1" height="8.54" fill="rgba(0,0,30,0.13)"/>
<text x="63.00" y="365.76" font-size="8.2" text-anchor="middle" fill="rgb(100,180,100)" textLength="11.5" lengthAdjust="spacingAndGlyphs">3. 5</text>
<rect x="75.95" y="317.62" width="17.4" height="57.58" fill="rgb(34,42,214)"/>
<rect x="84.0" y="317.62" width="1" height="57.58" fill="rgba(0,0,30,0.13)"/>
<text x="84.65" y="316.72" font-size="8.2" text-anchor="middle" fill="rgb(38,38,66)" textLength="15.2" lengthAdjust="spacingAndGlyphs">23. 6</text>
<rect x="97.60" y="359.83" width="17.4" height="15.37" fill="rgb(92,190,92)"/>
<rect x="106.0" y="359.83" width="1" height="15.37" fill="rgba(0,0,30,0.13)"/>
<text x="106.30" y="358.93" font-size="8.2" text-anchor="middle" fill="rgb(100,180,100)" textLength="11.5" lengthAdjust="spacingAndGlyphs">6. 3</text>
<rect x="119.25" y="360.07" width="17.4" height="15.13" fill="rgb(92,190,92)"/>
<rect x="127.0" y="360.07" width="1" height="15.13" fill="rgba(0,0,30,0.13)"/>
<text x="127.95" y="359.17" font-size="8.2" text-anchor="middle" fill="rgb(100,180,100)" textLength="11.5" lengthAdjust="spacingAndGlyphs">6. 2</text>
<rect x="140.90" y="330.79" width="17.4" height="44.41" fill="rgb(34,42,214)"/>
<rect x="149.0" y="330.79" width="1" height="44.41" fill="rgba(0,0,30,0.13)"/>
<text x="149.60" y="329.89" font-size="8.2" text-anchor="middle" fill="rgb(38,38,66)" textLength="15.2" lengthAdjust="spacingAndGlyphs">18. 2</text>
<rect x="162.55" y="324.69" width="17.4" height="50.51" fill="rgb(34,42,214)"/>
<rect x="171.0" y="324.69" width="1" height="50.51" fill="rgba(0,0,30,0.13)"/>
<text x="171.25" y="323.79" font-size="8.2" text-anchor="middle" fill="rgb(38,38,66)" textLength="15.2" lengthAdjust="spacingAndGlyphs">20. 7</text>
<rect x="184.20" y="327.38" width="17.4" height="47.82" fill="rgb(34,42,214)"/>
<rect x="192.0" y="327.38" width="1" height="47.82" fill="rgba(0,0,30,0.13)"/>
<text x="192.90" y="326.48" font-size="8.2" text-anchor="middle" fill="rgb(38,38,66)" textLength="15.2" lengthAdjust="spacingAndGlyphs">19. 6</text>
<rect x="205.85" y="324.69" width="17.4" height="50.51" fill="rgb(34,42,214)"/>
<rect x="214.0" y="324.69" width="1" height="50.51" fill="rgba(0,0,30,0.13)"/>
<text x="214.55" y="323.79" font-size="8.2" text-anchor="middle" fill="rgb(38,38,66)" textLength="15.2" lengthAdjust="spacingAndGlyphs">20. 7</text>
<rect x="227.50" y="315.66" width="17.4" height="59.54" fill="rgb(34,42,214)"/>
<rect x="236.0" y="315.66" width="1" height="59.54" fill="rgba(0,0,30,0.13)"/>
<text x="236.20" y="314.76" font-size="8.2" text-anchor="middle" fill="rgb(38,38,66)" textLength="15.2" lengthAdjust="spacingAndGlyphs">24. 4</text>
<rect x="249.15" y="323.23" width="17.4" height="51.97" fill="rgb(34,42,214)"/>
<rect x="257.0" y="323.23" width="1" height="51.97" fill="rgba(0,0,30,0.13)"/>
<text x="257.85" y="322.33" font-size="8.2" text-anchor="middle" fill="rgb(38,38,66)" textLength="15.2" lengthAdjust="spacingAndGlyphs">21. 3</text>
<rect x="270.80" y="327.86" width="17.4" height="47.34" fill="rgb(34,42,214)"/>
<rect x="279.0" y="327.86" width="1" height="47.34" fill="rgba(0,0,30,0.13)"/>
<text x="279.50" y="326.96" font-size="8.2" text-anchor="middle" fill="rgb(38,38,66)" textLength="15.2" lengthAdjust="spacingAndGlyphs">19. 4</text>
<rect x="292.45" y="344.94" width="17.4" height="30.26" fill="rgb(122,192,245)"/>
<rect x="301.0" y="344.94" width="1" height="30.26" fill="rgba(0,0,30,0.13)"/>
<text x="301.15" y="344.04" font-size="8.2" text-anchor="middle" fill="rgb(130,190,240)" textLength="15.2" lengthAdjust="spacingAndGlyphs">12. 4</text>
<rect x="314.10" y="255.15" width="17.4" height="120.05" fill="rgb(242,40,242)"/>
<rect x="322.0" y="255.15" width="1" height="120.05" fill="rgba(0,0,30,0.13)"/>
<text x="322.80" y="254.25" font-size="8.2" text-anchor="middle" fill="rgb(90,40,100)" textLength="15.2" lengthAdjust="spacingAndGlyphs">49. 2</text>
<rect x="335.75" y="297.85" width="17.4" height="77.35" fill="rgb(34,42,214)"/>
<rect x="344.0" y="297.85" width="1" height="77.35" fill="rgba(0,0,30,0.13)"/>
<text x="344.45" y="296.95" font-size="8.2" text-anchor="middle" fill="rgb(38,38,66)" textLength="15.2" lengthAdjust="spacingAndGlyphs">31. 7</text>
<rect x="357.40" y="241.00" width="17.4" height="134.20" fill="rgb(134,30,92)"/>
<rect x="366.0" y="241.00" width="1" height="134.20" fill="rgba(0,0,30,0.13)"/>
<text x="366.10" y="240.10" font-size="8.2" text-anchor="middle" fill="rgb(70,30,60)" textLength="15.2" lengthAdjust="spacingAndGlyphs">55. 0</text>
<rect x="379.05" y="298.34" width="17.4" height="76.86" fill="rgb(34,42,214)"/>
<rect x="387.0" y="298.34" width="1" height="76.86" fill="rgba(0,0,30,0.13)"/>
<text x="387.75" y="297.44" font-size="8.2" text-anchor="middle" fill="rgb(38,38,66)" textLength="15.2" lengthAdjust="spacingAndGlyphs">31. 5</text>
<rect x="400.70" y="200.01" width="17.4" height="175.19" fill="rgb(134,30,92)"/>
<rect x="409.0" y="200.01" width="1" height="175.19" fill="rgba(0,0,30,0.13)"/>
<text x="409.40" y="199.11" font-size="8.2" text-anchor="middle" fill="rgb(70,30,60)" textLength="15.2" lengthAdjust="spacingAndGlyphs">71. 8</text>
<rect x="422.35" y="305.42" width="17.4" height="69.78" fill="rgb(34,42,214)"/>
<rect x="431.0" y="305.42" width="1" height="69.78" fill="rgba(0,0,30,0.13)"/>
<text x="431.05" y="304.52" font-size="8.2" text-anchor="middle" fill="rgb(38,38,66)" textLength="15.2" lengthAdjust="spacingAndGlyphs">28. 6</text>
<rect x="444.00" y="358.12" width="17.4" height="17.08" fill="rgb(122,192,245)"/>
<rect x="452.0" y="358.12" width="1" height="17.08" fill="rgba(0,0,30,0.13)"/>
<text x="452.70" y="357.22" font-size="8.2" text-anchor="middle" fill="rgb(130,190,240)" textLength="11.5" lengthAdjust="spacingAndGlyphs">7. 0</text>
<rect x="465.65" y="363.98" width="17.4" height="11.22" fill="rgb(92,190,92)"/>
<rect x="474.0" y="363.98" width="1" height="11.22" fill="rgba(0,0,30,0.13)"/>
<text x="474.35" y="363.08" font-size="8.2" text-anchor="middle" fill="rgb(100,180,100)" textLength="11.5" lengthAdjust="spacingAndGlyphs">4. 6</text>
<rect x="487.30" y="370.56" width="17.4" height="4.64" fill="rgb(92,190,92)"/>
<rect x="496.0" y="370.56" width="1" height="4.64" fill="rgba(0,0,30,0.13)"/>
<text x="496.00" y="369.66" font-size="8.2" text-anchor="middle" fill="rgb(100,180,100)" textLength="11.5" lengthAdjust="spacingAndGlyphs">1. 9</text>
<rect x="508.95" y="374.47" width="17.4" height="0.73" fill="rgb(92,190,92)"/>
<text x="517.65" y="373.57" font-size="8.2" text-anchor="middle" fill="rgb(180,220,180)" textLength="11.5" lengthAdjust="spacingAndGlyphs">0. 3</text>
<rect x="530.60" y="372.76" width="17.4" height="2.44" fill="rgb(92,190,92)"/>
<text x="539.30" y="371.86" font-size="8.2" text-anchor="middle" fill="rgb(100,180,100)" textLength="11.5" lengthAdjust="spacingAndGlyphs">1. 0</text>
<rect x="552.25" y="371.54" width="17.4" height="3.66" fill="rgb(92,190,92)"/>
<rect x="560.0" y="371.54" width="1" height="3.66" fill="rgba(0,0,30,0.13)"/>
<text x="560.95" y="370.64" font-size="8.2" text-anchor="middle" fill="rgb(100,180,100)" textLength="11.5" lengthAdjust="spacingAndGlyphs">1. 5</text>
<polyline points="63.00,221.60 84.65,221.60 106.30,217.22 127.95,219.41 149.60,230.36 171.25,232.55 192.90,234.74 214.55,232.55 236.20,234.74 257.85,239.12 279.50,245.69 301.15,241.31 322.80,228.17 344.45,217.22 366.10,206.27 387.75,206.27 409.40,239.12 431.05,234.74 452.70,236.93 474.35,239.12 496.00,236.93 517.65,232.55 539.30,236.93 560.95,236.93" fill="none" stroke="#5a3c5c" stroke-width="1"/>
<circle cx="63.00" cy="221.60" r="1.1" fill="#5a3c5c"/>
<text x="62.70" y="217.00" font-size="8.6" text-anchor="middle" fill="#5a3c5c" textLength="15.4" lengthAdjust="spacingAndGlyphs">24. 0</text>
<circle cx="84.65" cy="221.60" r="1.1" fill="#5a3c5c"/>
<text x="84.35" y="217.00" font-size="8.6" text-anchor="middle" fill="#5a3c5c" textLength="15.4" lengthAdjust="spacingAndGlyphs">24. 0</text>
<circle cx="106.30" cy="217.22" r="1.1" fill="#5a3c5c"/>
<text x="106.00" y="212.62" font-size="8.6" text-anchor="middle" fill="#5a3c5c" textLength="15.4" lengthAdjust="spacingAndGlyphs">24. 2</text>
<circle cx="127.95" cy="219.41" r="1.1" fill="#5a3c5c"/>
<text x="127.65" y="214.81" font-size="8.6" text-anchor="middle" fill="#5a3c5c" textLength="15.4" lengthAdjust="spacingAndGlyphs">24. 1</text>
<circle cx="149.60" cy="230.36" r="1.1" fill="#5a3c5c"/>
<text x="149.30" y="225.76" font-size="8.6" text-anchor="middle" fill="#5a3c5c" textLength="15.4" lengthAdjust="spacingAndGlyphs">23. 6</text>
<circle cx="171.25" cy="232.55" r="1.1" fill="#5a3c5c"/>
<text x="170.95" y="227.95" font-size="8.6" text-anchor="middle" fill="#5a3c5c" textLength="15.4" lengthAdjust="spacingAndGlyphs">23. 5</text>
<circle cx="192.90" cy="234.74" r="1.1" fill="#5a3c5c"/>
<text x="192.60" y="230.14" font-size="8.6" text-anchor="middle" fill="#5a3c5c" textLength="15.4" lengthAdjust="spacingAndGlyphs">23. 4</text>
<circle cx="214.55" cy="232.55" r="1.1" fill="#5a3c5c"/>
<text x="214.25" y="227.95" font-size="8.6" text-anchor="middle" fill="#5a3c5c" textLength="15.4" lengthAdjust="spacingAndGlyphs">23. 5</text>
<circle cx="236.20" cy="234.74" r="1.1" fill="#5a3c5c"/>
<text x="235.90" y="230.14" font-size="8.6" text-anchor="middle" fill="#5a3c5c" textLength="15.4" lengthAdjust="spacingAndGlyphs">23. 4</text>
<circle cx="257.85" cy="239.12" r="1.1" fill="#5a3c5c"/>
<text x="257.55" y="234.52" font-size="8.6" text-anchor="middle" fill="#5a3c5c" textLength="15.4" lengthAdjust="spacingAndGlyphs">23. 2</text>
<circle cx="279.50" cy="245.69" r="1.1" fill="#5a3c5c"/>
<text x="279.20" y="241.09" font-size="8.6" text-anchor="middle" fill="#5a3c5c" textLength="15.4" lengthAdjust="spacingAndGlyphs">22. 9</text>
<circle cx="301.15" cy="241.31" r="1.1" fill="#5a3c5c"/>
<text x="300.85" y="236.71" font-size="8.6" text-anchor="middle" fill="#5a3c5c" textLength="15.4" lengthAdjust="spacingAndGlyphs">23. 1</text>
<circle cx="322.80" cy="228.17" r="1.1" fill="#5a3c5c"/>
<text x="322.50" y="223.57" font-size="8.6" text-anchor="middle" fill="#5a3c5c" textLength="15.4" lengthAdjust="spacingAndGlyphs">23. 7</text>
<circle cx="344.45" cy="217.22" r="1.1" fill="#5a3c5c"/>
<text x="344.15" y="212.62" font-size="8.6" text-anchor="middle" fill="#5a3c5c" textLength="15.4" lengthAdjust="spacingAndGlyphs">24. 2</text>
<circle cx="366.10" cy="206.27" r="1.1" fill="#5a3c5c"/>
<text x="365.80" y="201.67" font-size="8.6" text-anchor="middle" fill="#5a3c5c" textLength="15.4" lengthAdjust="spacingAndGlyphs">24. 7</text>
<circle cx="387.75" cy="206.27" r="1.1" fill="#5a3c5c"/>
<text x="387.45" y="201.67" font-size="8.6" text-anchor="middle" fill="#5a3c5c" textLength="15.4" lengthAdjust="spacingAndGlyphs">24. 7</text>
<circle cx="431.05" cy="234.74" r="1.1" fill="#5a3c5c"/>
<text x="430.75" y="230.14" font-size="8.6" text-anchor="middle" fill="#5a3c5c" textLength="15.4" lengthAdjust="spacingAndGlyphs">23. 4</text>
<circle cx="452.70" cy="236.93" r="1.1" fill="#5a3c5c"/>
<text x="452.40" y="232.33" font-size="8.6" text-anchor="middle" fill="#5a3c5c" textLength="15.4" lengthAdjust="spacingAndGlyphs">23. 3</text>
<circle cx="474.35" cy="239.12" r="1.1" fill="#5a3c5c"/>
<text x="474.05" y="234.52" font-size="8.6" text-anchor="middle" fill="#5a3c5c" textLength="15.4" lengthAdjust="spacingAndGlyphs">23. 2</text>
<circle cx="496.00" cy="236.93" r="1.1" fill="#5a3c5c"/>
<text x="495.70" y="232.33" font-size="8.6" text-anchor="middle" fill="#5a3c5c" textLength="15.4" lengthAdjust="spacingAndGlyphs">23. 3</text>
<circle cx="517.65" cy="232.55" r="1.1" fill="#5a3c5c"/>
<text x="517.35" y="227.95" font-size="8.6" text-anchor="middle" fill="#5a3c5c" textLength="15.4" lengthAdjust="spacingAndGlyphs">23. 5</text>
<circle cx="539.30" cy="236.93" r="1.1" fill="#5a3c5c"/>
<text x="539.00" y="232.33" font-size="8.6" text-anchor="middle" fill="#5a3c5c" textLength="15.4" lengthAdjust="spacingAndGlyphs">23. 3</text>
<circle cx="560.95" cy="236.93" r="1.1" fill="#5a3c5c"/>
<text x="560.65" y="232.33" font-size="8.6" text-anchor="middle" fill="#5a3c5c" textLength="15.4" lengthAdjust="spacingAndGlyphs">23. 3</text>
<rect x="28.50" y="155.50" width="567.00" height="220.00" fill="none" stroke="#333" stroke-width="1"/>
<line x1="25.50" y1="352.50" x2="28.50" y2="352.50" stroke="#333"/>
<text x="24" y="356.30" font-size="9" text-anchor="end" fill="#222">18</text>
<line x1="25.50" y1="309.50" x2="28.50" y2="309.50" stroke="#333"/>
<text x="24" y="312.50" font-size="9" text-anchor="end" fill="#222">20</text>
<line x1="25.50" y1="265.50" x2="28.50" y2="265.50" stroke="#333"/>
<text x="24" y="268.70" font-size="9" text-anchor="end" fill="#222">22</text>
<line x1="25.50" y1="221.50" x2="28.50" y2="221.50" stroke="#333"/>
<text x="24" y="224.90" font-size="9" text-anchor="end" fill="#222">24</text>
<line x1="25.50" y1="177.50" x2="28.50" y2="177.50" stroke="#333"/>
<text x="24" y="181.10" font-size="9" text-anchor="end" fill="#222">26</text>
<line x1="595.50" y1="375.50" x2="598.50" y2="375.50" stroke="#333"/>
<text x="600" y="378.50" font-size="9" fill="#222">0</text>
<line x1="595.50" y1="350.50" x2="598.50" y2="350.50" stroke="#333"/>
<text x="600" y="354.10" font-size="9" fill="#222">10</text>
<line x1="595.50" y1="326.50" x2="598.50" y2="326.50" stroke="#333"/>
<text x="600" y="329.70" font-size="9" fill="#222">20</text>
<line x1="595.50" y1="302.50" x2="598.50" y2="302.50" stroke="#333"/>
<text x="600" y="305.30" font-size="9" fill="#222">30</text>
<line x1="595.50" y1="277.50" x2="598.50" y2="277.50" stroke="#333"/>
<text x="600" y="280.90" font-size="9" fill="#222">40</text>
<line x1="595.50" y1="253.50" x2="598.50" y2="253.50" stroke="#333"/>
<text x="600" y="256.50" font-size="9" fill="#222">50</text>
<line x1="595.50" y1="228.50" x2="598.50" y2="228.50" stroke="#333"/>
<text x="600" y="232.10" font-size="9" fill="#222">60</text>
<line x1="595.50" y1="204.50" x2="598.50" y2="204.50" stroke="#333"/>
<text x="600" y="207.70" font-size="9" fill="#222">70</text>
<line x1="595.50" y1="180.50" x2="598.50" y2="180.50" stroke="#333"/>
<text x="600" y="183.30" font-size="9" fill="#222">80</text>
<line x1="595.50" y1="155.50" x2="598.50" y2="155.50" stroke="#333"/>
<text x="600" y="158.90" font-size="9" fill="#222">90</text>
<text x="63.00" y="385.00" font-size="9" text-anchor="middle" fill="#222">09</text>
<text x="84.65" y="385.00" font-size="9" text-anchor="middle" fill="#222">10</text>
<text x="106.30" y="385.00" font-size="9" text-anchor="middle" fill="#222">11</text>
<text x="127.95" y="385.00" font-size="9" text-anchor="middle" fill="#222">12</text>
<text x="149.60" y="385.00" font-size="9" text-anchor="middle" fill="#222">13</text>
<text x="171.25" y="385.00" font-size="9" text-anchor="middle" fill="#222">14</text>
<text x="192.90" y="385.00" font-size="9" text-anchor="middle" fill="#222">15</text>
<text x="214.55" y="385.00" font-size="9" text-anchor="middle" fill="#222">16</text>
<text x="236.20" y="385.00" font-size="9" text-anchor="middle" fill="#222">17</text>
<text x="257.85" y="385.00" font-size="9" text-anchor="middle" fill="#222">18</text>
<text x="279.50" y="385.00" font-size="9" text-anchor="middle" fill="#222">19</text>
<text x="301.15" y="385.00" font-size="9" text-anchor="middle" fill="#222">20</text>
<text x="322.80" y="385.00" font-size="9" text-anchor="middle" fill="#222">21</text>
<text x="344.45" y="385.00" font-size="9" text-anchor="middle" fill="#222">22</text>
<text x="366.10" y="385.00" font-size="9" text-anchor="middle" fill="#222">23</text>
<text x="387.75" y="385.00" font-size="9" text-anchor="middle" fill="#222">00</text>
<text x="409.40" y="385.00" font-size="9" text-anchor="middle" fill="#222">01</text>
<text x="431.05" y="385.00" font-size="9" text-anchor="middle" fill="#222">02</text>
<text x="452.70" y="385.00" font-size="9" text-anchor="middle" fill="#222">03</text>
<text x="474.35" y="385.00" font-size="9" text-anchor="middle" fill="#222">04</text>
<text x="496.00" y="385.00" font-size="9" text-anchor="middle" fill="#222">05</text>
<text x="517.65" y="385.00" font-size="9" text-anchor="middle" fill="#222">06</text>
<text x="539.30" y="385.00" font-size="9" text-anchor="middle" fill="#222">07</text>
<text x="560.95" y="385.00" font-size="9" text-anchor="middle" fill="#222">08</text>
<text x="312" y="396.2" font-size="9.6" text-anchor="middle" fill="#222">时刻</text>
<text transform="translate(12.3,266) rotate(-90)" font-size="9.8" text-anchor="middle" fill="#222">气温/℃</text>
<text transform="translate(619,264.8) rotate(-90)" font-size="9" text-anchor="middle" fill="#222">降水量/mm</text>
<path d="M63.0 152.0L75.0 150.3L76.0 149.0 M84.7 152.0L93.7 146.3L99.2 149.5 M106.3 152.0L115.3 146.3L120.8 149.5 M127.9 152.0L136.9 146.3L142.4 149.5 M149.6 152.0L155.4 142.7L160.6 143.4 M154.2 144.6L158.7 145.2 M171.2 152.0L176.8 142.7L182.2 143.4 M175.7 144.6L180.3 145.2 M192.9 152.0L198.4 142.7L203.9 143.2 M197.3 144.6L202.0 145.0 M214.5 152.0L215.0 141.0L222.0 141.0 M214.9 143.2L220.9 143.2 M236.2 152.0L241.2 142.8L248.2 143.0 M240.2 144.6L246.1 144.8 M257.9 152.0L264.5 143.7L269.9 144.5 M263.1 145.4L267.7 146.0 M279.5 152.0L281.0 141.5L288.0 141.5 M280.7 143.6L286.6 143.6 M301.1 152.0L301.4 140.3L307.1 140.8 M301.4 142.6L306.2 143.1 M322.8 152.0L329.8 143.0L335.8 143.0 M328.4 144.8L333.5 144.8 M344.4 152.0L347.9 142.0L352.9 141.2 M347.2 144.0L351.5 143.3 M366.1 152.0L375.6 146.0L381.1 149.0 M387.8 152.0L397.1 145.5L402.1 146.0 M395.2 146.8L399.4 147.2 M409.4 152.0L417.0 144.5L422.0 145.0 M415.5 146.0L419.7 146.4 M431.0 152.0L431.0 140.0L436.0 140.0 M431.0 142.4L435.3 142.4 M452.7 152.0L452.0 140.0L457.0 138.5 M452.1 142.4L456.4 141.1 M474.3 152.0L468.3 142.0L473.3 139.5 M469.5 144.0L473.8 141.9 M496.0 152.0L496.0 141.0L501.0 139.0 M496.0 143.2L500.2 141.5 M517.6 152.0L513.9 142.0L518.9 139.0 M514.7 144.0L518.9 141.4 M539.3 152.0L535.0 142.0L540.0 139.0 M535.9 144.0L540.1 141.4 M561.0 152.0L558.0 142.0L563.0 139.0 M558.6 144.0L562.8 141.4" fill="none" stroke="#2e2e3a" stroke-width="1.1"/>
<rect x="0" y="152" width="623" height="95.5" fill="rgb(251,140,33)" fill-opacity="0.67"/>
<text x="51.6" y="191.9" font-size="29.5" font-weight="900" fill="#fff" stroke="#fff" stroke-width="1.1" stroke-linejoin="round" textLength="522.5" lengthAdjust="spacing">历史上的12月27日嘉祥实时降雨量统计</text>
<text x="313" y="229.4" font-size="29.5" font-weight="900" text-anchor="middle" fill="#fff" stroke="#fff" stroke-width="1.1" stroke-linejoin="round">图表</text>
<ellipse cx="471.5" cy="386.5" rx="8.8" ry="6.8" fill="rgba(255,255,255,0.7)" stroke="rgba(150,150,150,0.55)" stroke-width="0.9"/>
<ellipse cx="469.5" cy="388" rx="4.2" ry="3" fill="none" stroke="rgba(150,150,150,0.5)" stroke-width="0.8"/>
<path d="M474 378.5 Q479 379 479.5 383.5" fill="none" stroke="rgba(150,150,150,0.5)" stroke-width="0.8"/>
<text x="486" y="393.4" font-size="16.8" fill="#fff" stroke="rgba(120,120,120,0.6)" stroke-width="1.2" paint-order="stroke" textLength="133.5" lengthAdjust="spacingAndGlyphs">@喜欢气象的点点</text>
</svg>
</body></html>
